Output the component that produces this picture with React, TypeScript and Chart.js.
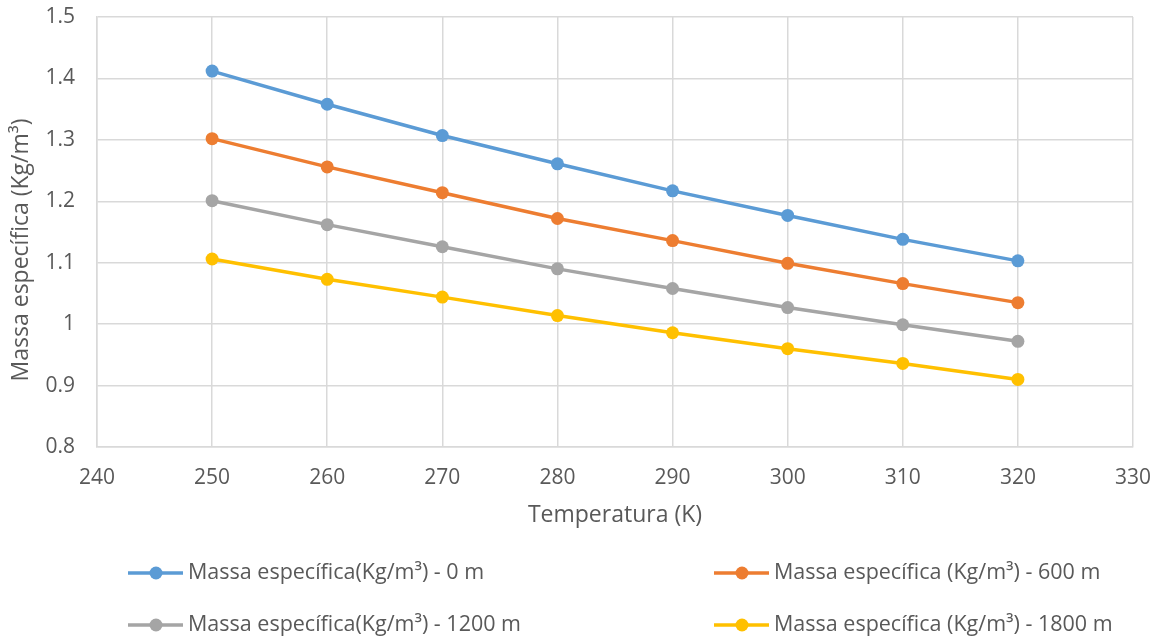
import React, { useEffect, useRef } from "react";
import { Chart, registerables } from "chart.js";

Chart.register(...registerables);

const temperatures = [250, 260, 270, 280, 290, 300, 310, 320];
const rho0m = [1.412, 1.358, 1.307, 1.261, 1.217, 1.177, 1.138, 1.103];
const rho600m = [1.302, 1.256, 1.214, 1.172, 1.136, 1.099, 1.066, 1.035];
const rho1200m = [1.201, 1.162, 1.126, 1.09, 1.058, 1.027, 0.999, 0.972];
const rho1800m = [1.106, 1.073, 1.044, 1.014, 0.986, 0.96, 0.936, 0.91];
const seriesLabels = [
  "Massa específica(Kg/m³) - 0 m",
  "Massa específica (Kg/m³) - 600 m",
  "Massa específica(Kg/m³) - 1200 m",
  "Massa específica (Kg/m³) - 1800 m",
];
const seriesColors = ["#5B9BD5", "#ED7D31", "#A5A5A5", "#FFC000"];
const xTitle = "Temperatura (K)";
const yTitle = "Massa específica (Kg/m³)\u00A0\u00A0\u00A0\u00A0\u00A0\u00A0";

const FONT = '"Open Sans", sans-serif';
const TEXT = "#595959";
const GRID = "#D9D9D9";

const legendPositions = [
  [128, 573],
  [714, 573],
  [128, 625],
  [714, 625],
];

const gridLegend = {
  id: "gridLegend",
  afterDraw(chart: any) {
    const ctx = chart.ctx;
    chart.data.datasets.forEach((ds: any, i: number) => {
      const [x, y] = legendPositions[i];
      ctx.save();
      ctx.strokeStyle = ds.borderColor;
      ctx.lineWidth = 3.5;
      ctx.beginPath();
      ctx.moveTo(x, y);
      ctx.lineTo(x + 55, y);
      ctx.stroke();
      ctx.fillStyle = ds.pointBackgroundColor;
      ctx.beginPath();
      ctx.arc(x + 28, y, 6.5, 0, Math.PI * 2);
      ctx.fill();
      ctx.fillStyle = TEXT;
      ctx.font = `21.5px ${FONT}`;
      ctx.textBaseline = "middle";
      ctx.textAlign = "left";
      ctx.fillText(ds.label, x + 60, y);
      ctx.restore();
    });
  },
};

const zeroPadding = (scale: any) => {
  scale.paddingTop = 0;
  scale.paddingBottom = 0;
  scale.paddingLeft = 0;
  scale.paddingRight = 0;
};

export default function App() {
  const ref = useRef<HTMLCanvasElement>(null);

  useEffect(() => {
    if (!ref.current) return;
    const series = [rho0m, rho600m, rho1200m, rho1800m];
    const chart = new Chart(ref.current, {
      type: "line",
      data: {
        datasets: series.map((vals, i) => ({
          label: seriesLabels[i],
          data: temperatures.map((t, j) => ({ x: t, y: vals[j] })),
          borderColor: seriesColors[i],
          backgroundColor: seriesColors[i],
          pointBackgroundColor: seriesColors[i],
          pointBorderColor: seriesColors[i],
          borderWidth: 3.5,
          pointRadius: 6.5,
          pointBorderWidth: 0,
          tension: 0,
        })),
      },
      options: {
        responsive: false,
        animation: false,
        devicePixelRatio: 1,
        layout: { padding: { left: 0, top: 17, right: 27, bottom: 100 } },
        plugins: {
          legend: { display: false },
          tooltip: { enabled: false },
        },
        scales: {
          x: {
            type: "linear",
            min: 240,
            max: 330,
            ticks: {
              stepSize: 10,
              color: TEXT,
              font: { family: FONT, size: 21 },
              padding: 18,
            },
            grid: { color: GRID, lineWidth: 1.5, drawTicks: false },
            border: { color: GRID, width: 1.5 },
            title: {
              display: true,
              text: xTitle,
              color: TEXT,
              font: { family: FONT, size: 23 },
              padding: { top: 0, bottom: 10 },
            },
            afterFit(scale: any) {
              scale.height = 92;
              zeroPadding(scale);
            },
          },
          y: {
            min: 0.8,
            max: 1.5,
            ticks: {
              stepSize: 0.1,
              color: TEXT,
              font: { family: FONT, size: 21 },
              padding: 22,
              callback: (v: any) => String(Math.round(Number(v) * 10) / 10),
            },
            grid: { color: GRID, lineWidth: 1.5, drawTicks: false },
            border: { color: GRID, width: 1.5 },
            title: {
              display: true,
              text: yTitle,
              color: TEXT,
              font: { family: FONT, size: 23 },
              padding: { top: 8, bottom: 0 },
            },
            afterFit(scale: any) {
              scale.width = 97;
              zeroPadding(scale);
            },
          },
        },
      },
      plugins: [gridLegend],
    } as any);
    return () => chart.destroy();
  }, []);

  return (
    <div style={{ position: "fixed", left: 0, top: 0, width: 1160, height: 639, background: "#fff" }}>
      <canvas ref={ref} width={1160} height={639} />
    </div>
  );
}
